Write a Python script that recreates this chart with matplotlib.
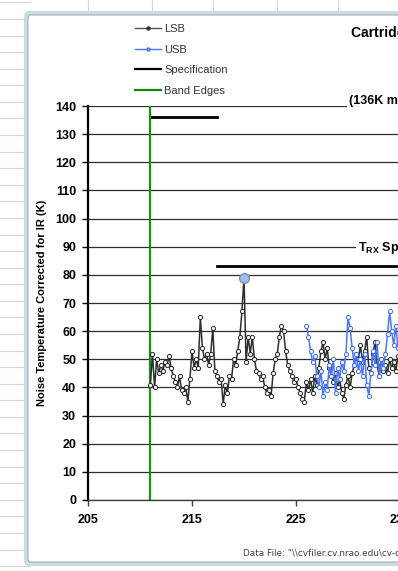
import numpy as np
import matplotlib
matplotlib.use("Agg")
import matplotlib.pyplot as plt
from matplotlib.lines import Line2D
from matplotlib.patches import FancyBboxPatch

plt.rcParams['font.family'] = ['Liberation Sans', 'DejaVu Sans']
plt.rcParams['mathtext.fontset'] = 'custom'
plt.rcParams['mathtext.rm'] = 'Liberation Sans'
plt.rcParams['mathtext.bf'] = 'Liberation Sans:bold'

W, H = 398, 571

# LSB noise temperature (K) vs LO frequency (GHz)
lsb_freq = [211.0, 211.2, 211.4, 211.6, 211.8, 212.0, 212.2, 212.4, 212.6, 212.8,
            213.0, 213.2, 213.4, 213.6, 213.8, 214.0, 214.2, 214.4, 214.6, 214.8,
            215.0, 215.2, 215.4, 215.6, 215.8, 216.0, 216.2, 216.4, 216.6, 216.8,
            217.0, 217.2, 217.4, 217.6, 217.8, 218.0, 218.2, 218.4, 218.6, 218.8,
            219.0, 219.2, 219.4, 219.6, 219.8, 220.0, 220.2, 220.4, 220.6, 220.8,
            221.0, 221.2, 221.4, 221.6, 221.8, 222.0, 222.2, 222.4, 222.6, 222.8,
            223.0, 223.2, 223.4, 223.6, 223.8, 224.0, 224.2, 224.4, 224.6, 224.8,
            225.0, 225.2, 225.4, 225.6, 225.8, 226.0, 226.2, 226.4, 226.6, 226.8,
            227.0, 227.2, 227.4, 227.6, 227.8, 228.0, 228.2, 228.4, 228.6, 228.8,
            229.0, 229.2, 229.4, 229.6, 229.8, 230.0, 230.2, 230.4, 230.6, 230.8,
            231.0, 231.2, 231.4, 231.6, 231.8, 232.0, 232.2, 232.4, 232.6, 232.8,
            233.0, 233.2, 233.4, 233.6, 233.8, 234.0, 234.2, 234.4, 234.6, 234.8,
            235.0]
lsb_trx = [41, 52, 40, 50, 45, 48, 46, 49, 48, 51,
           47, 44, 42, 40, 44, 39, 38, 40, 35, 43,
           53, 47, 50, 47, 65, 54, 50, 52, 48, 52,
           61, 46, 44, 42, 43, 34, 41, 38, 44, 43,
           50, 48, 53, 58, 67, 79, 49, 58, 52, 58,
           50, 46, 45, 43, 44, 40, 38, 39, 37, 45,
           50, 52, 58, 62, 60, 53, 48, 46, 44, 42,
           43, 40, 38, 36, 35, 42, 39, 43, 38, 44,
           41, 47, 53, 56, 50, 54, 47, 44, 42, 45,
           40, 43, 38, 36, 41, 44, 40, 45, 48, 52,
           50, 55, 49, 53, 58, 47, 45, 52, 56, 48,
           44, 50, 46, 48, 45, 50, 47, 49, 46, 51,
           48]

# USB noise temperature (K)
usb_freq = [226.0, 226.2, 226.4, 226.6, 226.8, 227.0, 227.2, 227.4, 227.6, 227.8,
            228.0, 228.2, 228.4, 228.6, 228.8, 229.0, 229.2, 229.4, 229.6, 229.8,
            230.0, 230.2, 230.4, 230.6, 230.8, 231.0, 231.2, 231.4, 231.6, 231.8,
            232.0, 232.2, 232.4, 232.6, 232.8, 233.0, 233.2, 233.4, 233.6, 233.8,
            234.0, 234.2, 234.4, 234.6, 234.8, 235.0]
usb_trx = [62, 58, 53, 49, 51, 44, 40, 46, 37, 42,
           39, 48, 44, 50, 38, 47, 43, 49, 46, 52,
           65, 61, 54, 48, 52, 46, 50, 44, 52, 41,
           37, 45, 53, 48, 56, 44, 50, 47, 52, 59,
           67, 60, 55, 62, 54, 58]

# highlighted maximum
peak_freq = [220.0]
peak_trx = [79]

# specification lines
spec_max_freq = [211.0, 217.4]
spec_max_trx = [136, 136]
spec_freq = [217.4, 275.0]
spec_trx = [83, 83]
band_edges = [211.0, 275.0]

xticks = [205, 215, 225, 235]
yticks = [0, 10, 20, 30, 40, 50, 60, 70, 80, 90, 100, 110, 120, 130, 140]


def fx(px):
    return px / W


def fy(py):
    return 1 - py / H


fig = plt.figure(figsize=(W / 100, H / 100), dpi=100, facecolor='white')

# spreadsheet cells behind the chart
for py in np.arange(2.4, H, 16.58):
    fig.add_artist(Line2D([0, fx(30)], [fy(py), fy(py)], color='#d6d6d6', lw=0.8, zorder=-3))
for px in [88, 152, 213, 277, 338]:
    fig.add_artist(Line2D([fx(px), fx(px)], [1, fy(14)], color='#d6d6d6', lw=0.8, zorder=-3))

# chart area frame
fig.add_artist(FancyBboxPatch((fx(26), fy(564)), fx(500), (564 - 13) / H,
                              boxstyle='round,pad=0,rounding_size=0.008',
                              fc='white', ec='#c9dde2', lw=3, zorder=-2,
                              transform=fig.transFigure))
fig.add_artist(FancyBboxPatch((fx(28), fy(562)), fx(500), (562 - 15) / H,
                              boxstyle='round,pad=0,rounding_size=0.006',
                              fc='white', ec='#9aa4a8', lw=0.7, zorder=-1,
                              transform=fig.transFigure))

ax = fig.add_axes([fx(88), fy(500), fx(832), (500 - 106) / H])
ax.set_zorder(1)
ax.set_facecolor('white')

ax.plot(lsb_freq, lsb_trx, color='#2e2e2e', lw=1.1, marker='o', ms=3,
        mfc='white', mec='#262626', mew=0.7, zorder=4)
ax.plot(usb_freq, usb_trx, color='#4777ff', lw=1.1, marker='o', ms=3,
        mfc='white', mec='#3b6cff', mew=0.7, zorder=5)
ax.plot(peak_freq, peak_trx, ls='none', marker='o', ms=7,
        mfc='#a3bde0', mec='#6f8fc0', mew=1, zorder=6)

ax.plot(spec_max_freq, spec_max_trx, color='black', lw=2, zorder=3)
ax.plot(spec_freq, spec_trx, color='black', lw=2, zorder=3)
for edge in band_edges:
    ax.axvline(edge, color='#0a9a0a', lw=1.6, zorder=3)

ax.set_xlim(205, 285)
ax.set_ylim(0, 140)
ax.set_xticks(xticks)
ax.set_xticklabels([str(v) for v in xticks], fontsize=9, fontweight='bold')
ax.set_yticks(yticks)
ax.set_yticklabels([str(v) for v in yticks], fontsize=9, fontweight='bold')
ax.tick_params(axis='y', direction='out', length=4, width=1, pad=4.5)
ax.tick_params(axis='x', direction='out', length=4, width=1, pad=6, color='#404040')
ax.yaxis.grid(True, color='#2e2e2e', lw=0.9)
ax.set_axisbelow(True)
for side in ['top', 'right']:
    ax.spines[side].set_visible(False)
ax.spines['left'].set_linewidth(1.6)
ax.spines['left'].set_color('black')
ax.spines['bottom'].set_linewidth(1)
ax.spines['bottom'].set_color('#404040')

ax.set_ylabel('Noise Temperature Corrected for IR (K)', fontsize=8, fontweight='bold')
ax.yaxis.set_label_coords((47 - 88) / 832, 0.5)

handles = [Line2D([], [], color='#555555', lw=1, marker='o', ms=2.2, mfc='#333333', mec='#333333'),
           Line2D([], [], color='#4777ff', lw=1, marker='o', ms=2.2, mfc='#8fa8ff', mec='#4777ff'),
           Line2D([], [], color='black', lw=1.6),
           Line2D([], [], color='#0a8a0a', lw=1.6)]
fig.legend(handles, ['LSB', 'USB', 'Specification', 'Band Edges'],
           loc='upper left', bbox_to_anchor=(fx(135), fy(24)), frameon=False,
           fontsize=8, handlelength=2.3, handletextpad=0.35, labelspacing=0.95,
           borderpad=0, borderaxespad=0, labelcolor='#333333')

box = dict(fc='white', ec='none', pad=1.5)
fig.text(fx(351), fy(33), 'Cartridge Receiver Noise Temperature', fontsize=10,
         fontweight='bold', va='center', ha='left', zorder=7)
fig.text(fx(349), fy(101), '(136K max at any frequency)', fontsize=9,
         fontweight='bold', va='center', ha='left', bbox=box, zorder=7)
fig.text(fx(358), fy(248), r'T$_{\mathbf{RX}}$ Specification (83K)', fontsize=9,
         fontweight='bold', va='center', ha='left', bbox=box, zorder=7)
fig.text(fx(243), fy(553), 'Data File: "\\\\cvfiler.cv.nrao.edu\\cv-cdl-sis\\Band6\\data"',
         fontsize=6.4, family='DejaVu Sans', color='#404040', va='center', ha='left', zorder=7)

fig.savefig('out.png', dpi=100, facecolor='white')
